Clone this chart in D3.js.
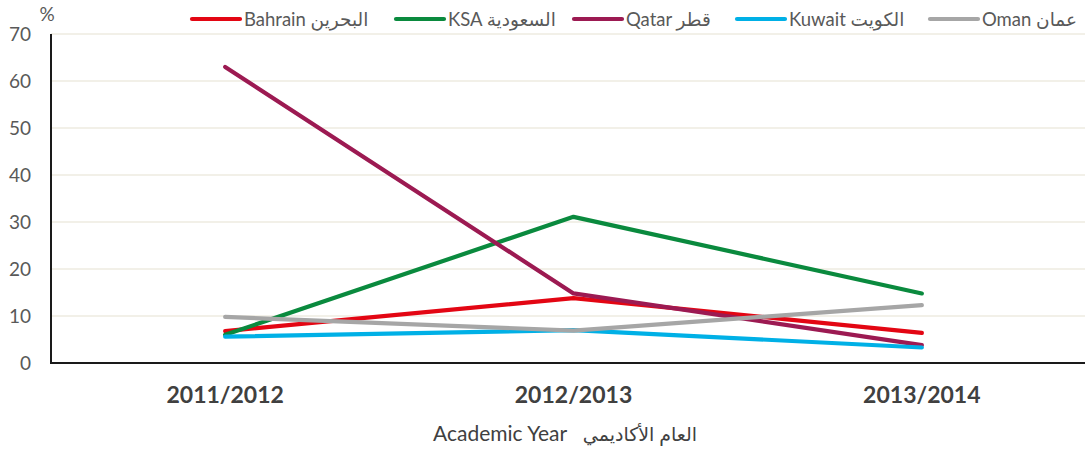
<!DOCTYPE html>
<html><head><meta charset="utf-8">
<script src="https://cdn.jsdelivr.net/npm/d3@7"></script>
<style>
html,body{margin:0;padding:0;background:#fff;}
svg{display:block;font-family:Lato,"Noto Sans","DejaVu Sans",sans-serif;}
</style></head>
<body><svg id="c" width="1085" height="451"></svg>
<script>
const categories = ["2011/2012", "2012/2013", "2013/2014"];
const seriesNames = ["Bahrain البحرين", "KSA السعودية", "Qatar قطر", "Kuwait الكويت", "Oman عمان"];
const seriesColors = ["#e30613", "#0a8a3e", "#9c1a52", "#00b0e6", "#a6a6a6"];
const bahrain = [6.8, 13.8, 6.4];
const ksa = [6.0, 31.1, 14.8];
const qatar = [63.0, 14.8, 3.8];
const kuwait = [5.6, 7.0, 3.3];
const oman = [9.8, 6.9, 12.3];
const yTicks = [0, 10, 20, 30, 40, 50, 60, 70];
const yUnit = "%";
const xTitleAr = "العام الأكاديمي";
const xTitleEn = "Academic Year";

(function () {
const seriesValues = [bahrain, ksa, qatar, kuwait, oman];
const svg = d3.select("#c");
const mLeft = 51, mTop = 34, mBottom = 363, bandRight = 1096, gridRight = 1085;

const x = d3.scaleBand().domain(categories).range([mLeft, bandRight]);
const y = d3.scaleLinear().domain([0, 70]).range([mBottom, mTop]);

// gridlines
svg.append("g").selectAll("line").data(yTicks.filter(d => d > 0)).join("line")
  .attr("x1", mLeft).attr("x2", gridRight)
  .attr("y1", d => y(d)).attr("y2", d => y(d))
  .attr("stroke", "#eeebe1").attr("stroke-width", 1.3);

// y axis
const yAxis = d3.axisLeft(y).tickValues(yTicks).tickSize(0).tickPadding(20);
const gy = svg.append("g").attr("transform", `translate(${mLeft},0)`).call(yAxis);
gy.select(".domain").remove();
gy.selectAll("text").attr("font-size", 19).attr("fill", "#595959").attr("font-family", "Lato, sans-serif");
svg.append("line").attr("x1", mLeft).attr("x2", mLeft).attr("y1", mTop).attr("y2", mBottom + 1)
  .attr("stroke", "#1a1a1a").attr("stroke-width", 2);

// x axis
const xAxis = d3.axisBottom(x).tickSize(0).tickPadding(24);
const gx = svg.append("g").attr("transform", `translate(0,${mBottom})`).call(xAxis);
gx.select(".domain").remove();
gx.selectAll("text").attr("font-size", 23).attr("font-weight", "bold").attr("fill", "#404040")
  .attr("font-family", "Lato, sans-serif");
svg.append("line").attr("x1", mLeft).attr("x2", gridRight).attr("y1", mBottom).attr("y2", mBottom)
  .attr("stroke", "#1a1a1a").attr("stroke-width", 2);

// unit label
svg.append("text").attr("x", 47).attr("y", 21).attr("text-anchor", "middle")
  .attr("font-size", 19).attr("fill", "#595959").text(yUnit);

// x title: English on the left, Arabic on the right
svg.append("text").attr("x", 433).attr("y", 441).attr("text-anchor", "start")
  .attr("font-size", 21).attr("fill", "#404040").text(xTitleEn);
svg.append("text").attr("x", 697).attr("y", 441).attr("text-anchor", "end")
  .attr("font-size", 19).attr("fill", "#404040").text(xTitleAr);

// lines
const line = d3.line().x((d, i) => x(categories[i]) + x.bandwidth() / 2).y(d => y(d));
svg.append("g").selectAll("path").data(seriesValues).join("path")
  .attr("d", d => line(d)).attr("fill", "none")
  .attr("stroke", (d, i) => seriesColors[i]).attr("stroke-width", 4.2)
  .attr("stroke-linecap", "round").attr("stroke-linejoin", "round");

// legend
const legendX = [192, 396, 574, 737, 930];
const lg = svg.append("g").selectAll("g").data(seriesNames).join("g")
  .attr("transform", (d, i) => `translate(${legendX[i]},19)`);
lg.append("line").attr("x1", 0).attr("x2", 48).attr("y1", 0).attr("y2", 0)
  .attr("stroke", (d, i) => seriesColors[i]).attr("stroke-width", 4.2).attr("stroke-linecap", "round");
lg.append("text").attr("x", 52).attr("y", 6.5).attr("direction", "ltr")
  .attr("font-size", 18.5).attr("fill", "#595959").text(d => d);
})();
</script></body></html>
